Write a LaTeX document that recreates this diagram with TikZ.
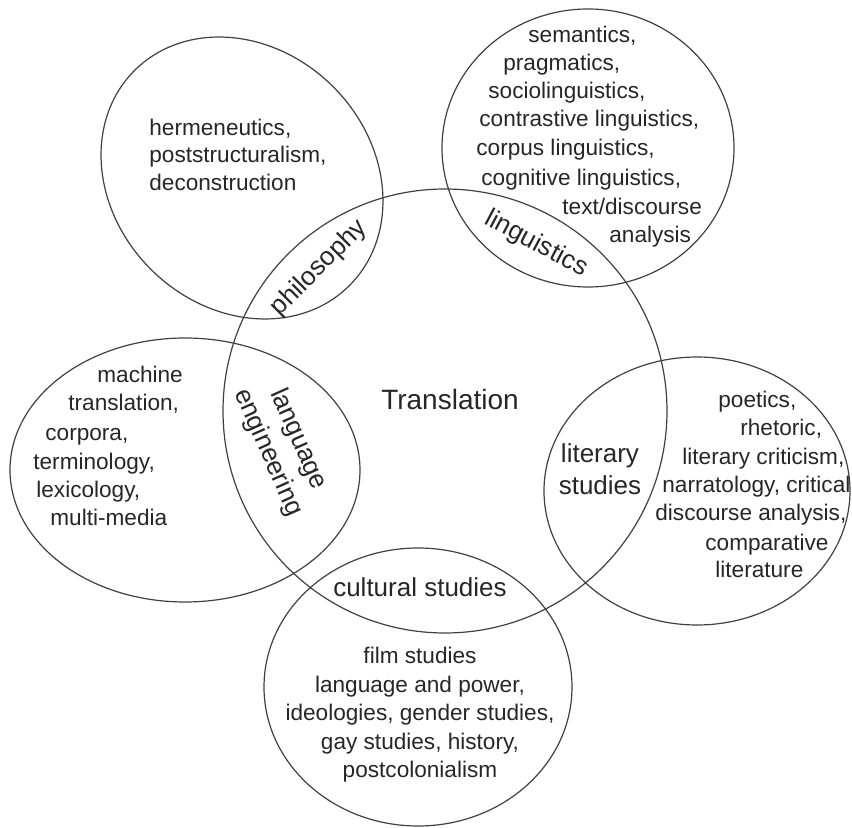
\documentclass[tikz,border=0pt]{standalone}
\usepackage{fontspec}
\setmainfont{Liberation Sans}
\usetikzlibrary{shapes.geometric}
\begin{document}
\begin{tikzpicture}[x=0.5pt,y=-0.5pt,
  ring/.style={draw=black!75, line width=0.6pt, ellipse, inner sep=0pt, outer sep=0pt},
  item/.style={anchor=west, inner sep=0pt, text=black!85, font=\fontsize{11.3}{14.25}\selectfont, text height=0.72em, text depth=0pt},
  block/.style={inner sep=0pt, text=black!85, font=\fontsize{11.3}{14.25}\selectfont, align=center},
  lab/.style={inner sep=0pt, text=black!85, font=\fontsize{13}{16}\selectfont, align=center},
]
\useasboundingbox (0,0) rectangle (852,828);
% circles
\node[ring, minimum width=222pt, minimum height=222pt] (trans) at (445,411) {};
\node[ring, minimum width=152pt, minimum height=129pt, rotate=-45] (phil) at (242,178) {};
\node[ring, minimum width=146pt, minimum height=139pt] (ling) at (588,148) {};
\node[ring, minimum width=175pt, minimum height=132pt] (lang) at (185,470) {};
\node[ring, minimum width=153pt, minimum height=134pt] (lit) at (697,491) {};
\node[ring, minimum width=154pt, minimum height=139pt] (cult) at (418,687) {};
% centre
\node[lab, font=\fontsize{14}{17}\selectfont] (tl) at (450,399) {Translation};
% philosophy
\node[item] (h1) at (149,128) {hermeneutics,};
\node[item] (h2) at (149,155.5) {poststructuralism,};
\node[item] (h3) at (149,183) {deconstruction};
\node[lab, rotate=45] (phl) at (319,268) {philosophy};
% linguistics
\node[item] (l1) at (528,35) {semantics,};
\node[item] (l2) at (503,63) {pragmatics,};
\node[item] (l3) at (488,91) {sociolinguistics,};
\node[item] (l4) at (479,119) {contrastive linguistics,};
\node[item] (l5) at (476,148) {corpus linguistics,};
\node[item] (l6) at (481,178) {cognitive linguistics,};
\node[item] (l7) at (562,207) {text/discourse};
\node[item] (l8) at (609,235) {analysis};
\node[lab, rotate=-28] (lgl) at (536,244) {linguistics};
% language engineering
\node[item] (m1) at (97,375) {machine};
\node[item] (m2) at (68,403) {translation,};
\node[item] (m3) at (45,433) {corpora,};
\node[item] (m4) at (33,462) {terminology,};
\node[item] (m5) at (36,490) {lexicology,};
\node[item] (m6) at (50,518) {multi-media};
\node[lab, rotate=-66, font=\fontsize{13}{16.5}\selectfont] (lel) at (283,446) {language\\engineering};
% literary studies
\node[item] (r1) at (718,400) {poetics,};
\node[item] (r2) at (740,428) {rhetoric,};
\node[item] (r3) at (682,457) {literary criticism,};
\node[item] (r4) at (662,485) {narratology, critical};
\node[item] (r5) at (655,513) {discourse analysis,};
\node[item] (r6) at (705,543) {comparative};
\node[item] (r7) at (715,570) {literature};
\node[lab] (lsl) at (600,469) {literary\\studies};
% cultural studies
\node[lab] (csl) at (420,587) {cultural studies};
\node[block] (cb) at (420,715) {film studies\\language and power,\\ideologies, gender studies,\\gay studies, history,\\postcolonialism};
\end{tikzpicture}
\end{document}
